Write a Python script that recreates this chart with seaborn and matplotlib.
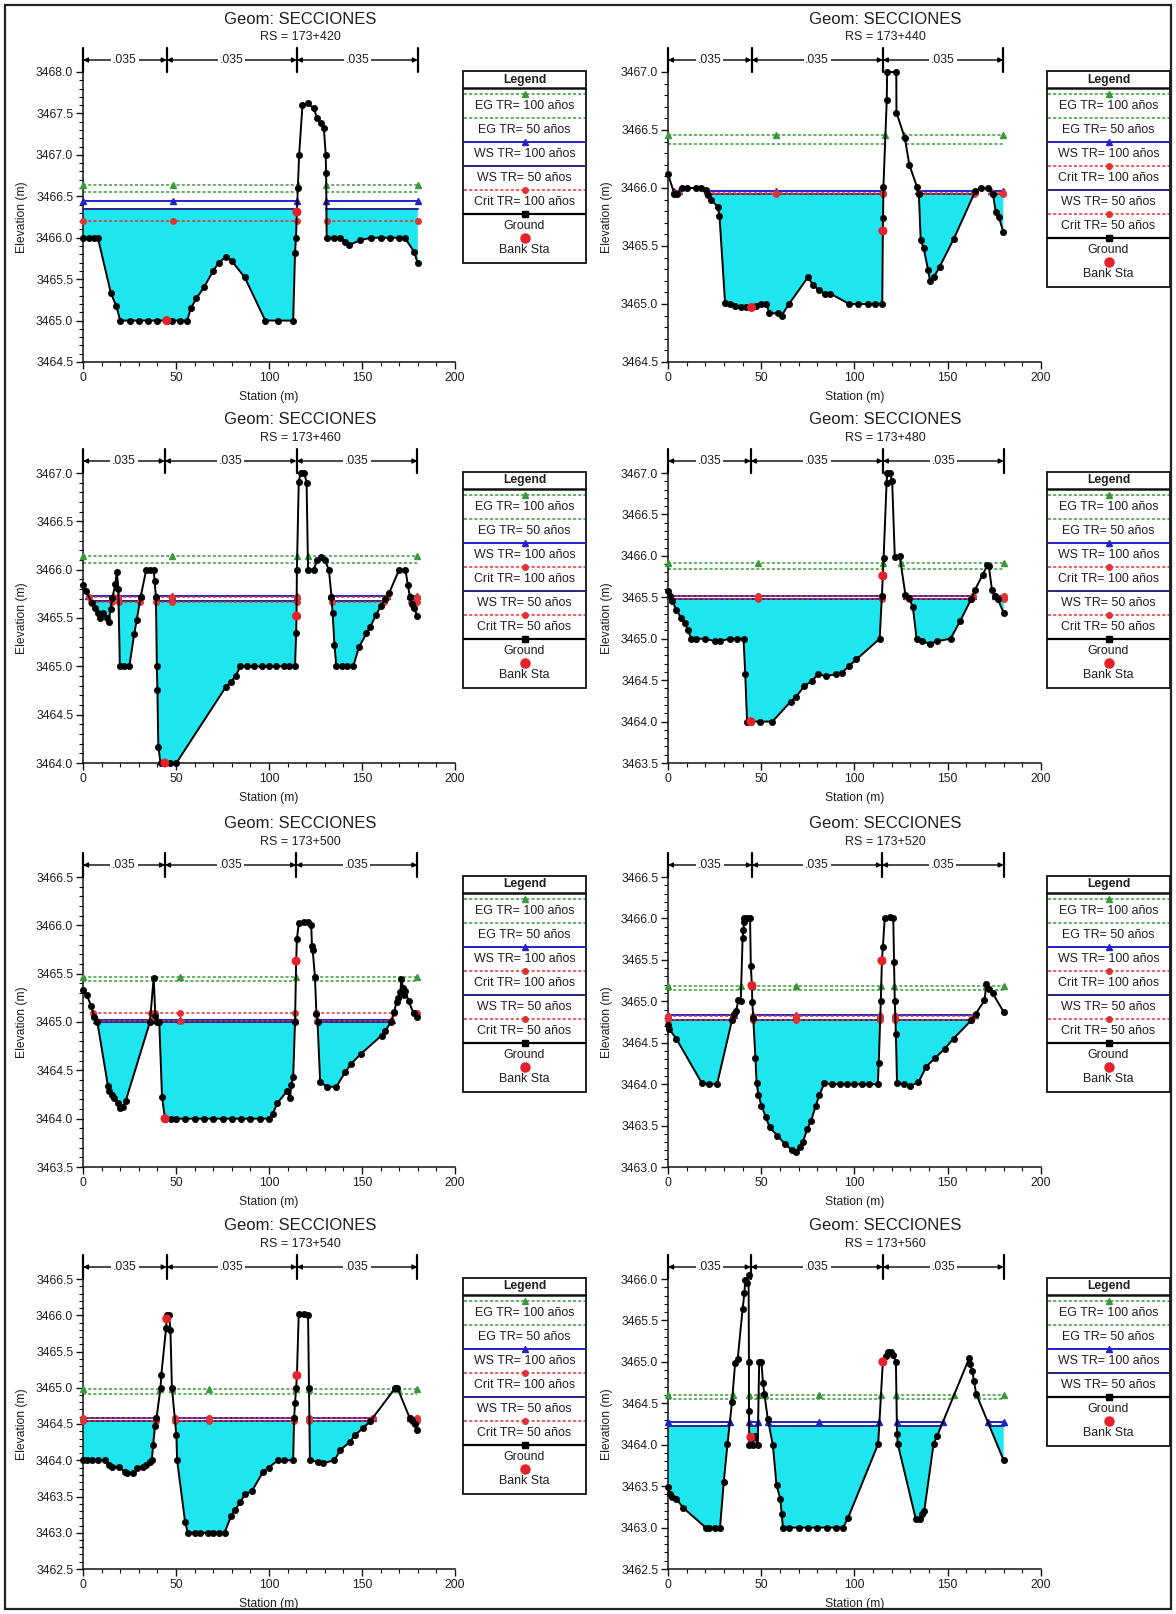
import matplotlib
matplotlib.use("Agg")
import matplotlib.pyplot as plt
import seaborn as sns
from matplotlib.patches import Rectangle
from matplotlib.ticker import MultipleLocator, FormatStrFormatter
from matplotlib.transforms import blended_transform_factory

# ---------------------------------------------------------------- data
rs_labels = ["173+420", "173+440", "173+460", "173+480",
             "173+500", "173+520", "173+540", "173+560"]

sta_420 = [0, 3, 6, 8, 15, 18, 20, 25, 30, 35, 40, 45, 48, 52, 56, 58, 61, 65, 70, 73,
           77, 80, 87, 98, 105, 113, 114, 114.5, 115, 115.5, 116.2, 118, 121, 124, 126,
           128, 129.5, 130.5, 130.7, 131, 135, 138, 141, 143, 149, 155, 160, 165, 170,
           173, 178, 180]
elev_420 = [3466.0, 3466.0, 3466.0, 3466.0, 3465.33, 3465.17, 3465.0, 3465.0, 3465.0,
            3465.0, 3465.0, 3465.0, 3465.0, 3465.0, 3465.0, 3465.15, 3465.27, 3465.4,
            3465.6, 3465.7, 3465.77, 3465.72, 3465.52, 3465.0, 3465.0, 3465.0, 3465.82,
            3466.0, 3466.31, 3466.6, 3467.0, 3467.6, 3467.62, 3467.56, 3467.44, 3467.38,
            3467.32, 3467.0, 3466.78, 3466.0, 3466.0, 3466.0, 3465.95, 3465.91, 3465.97,
            3466.0, 3466.0, 3466.0, 3466.0, 3466.0, 3465.83, 3465.69]

sta_440 = [0, 3.4, 4.8, 7.5, 10, 15, 17.5, 20.6, 21.6, 23, 26.6, 27.6, 30.6, 33, 36, 39,
           42, 44.8, 47, 49.8, 52.8, 54.4, 58.9, 60.9, 64.9, 75, 78, 81, 84, 87, 97.2,
           102, 107, 111, 114.9, 115.2, 115.3, 115.5, 117.3, 117.5, 122.4, 122.5, 127,
           129.4, 133.5, 134.5, 135.5, 137.1, 139.5, 140.5, 142.5, 145.6, 153.2, 164.7,
           167.7, 171.8, 174.2, 175.8, 177.4, 179.8]
elev_440 = [3466.12, 3465.95, 3465.95, 3466.0, 3466.0, 3466.0, 3466.0, 3465.98, 3465.94,
            3465.9, 3465.84, 3465.76, 3465.01, 3465.0, 3464.98, 3464.97, 3464.97, 3464.97,
            3464.98, 3465.0, 3465.0, 3464.92, 3464.92, 3464.9, 3465.0, 3465.23, 3465.16,
            3465.12, 3465.09, 3465.09, 3465.0, 3465.0, 3465.0, 3465.0, 3465.0, 3465.63,
            3465.74, 3466.01, 3466.76, 3467.0, 3467.0, 3466.65, 3466.43, 3466.2, 3466.01,
            3465.95, 3465.55, 3465.48, 3465.29, 3465.2, 3465.23, 3465.32, 3465.56,
            3465.97, 3466.0, 3466.0, 3465.95, 3465.79, 3465.75, 3465.62]

sta_460 = [0, 1.6, 4.7, 6.7, 8, 9.3, 10.7, 12.8, 13.8, 14.8, 15.8, 17.4, 18.2, 19, 19.8,
           22, 24.9, 27.5, 28.9, 31, 34, 36, 38, 38.5, 39.2, 39.7, 40, 40.5, 41.7, 44, 47,
           50.2, 76.9, 79.6, 82, 84.6, 88, 92, 96, 100, 104, 108, 111, 114, 114.6, 114.8,
           115, 116, 117, 119, 120.2, 121, 124, 126, 128, 130, 132.2, 133.6, 134.2, 135.2,
           136.2, 139, 142, 145.3, 148.4, 152.4, 154.5, 157.5, 160, 162.6, 164.6, 170,
           173.3, 174.7, 175.7, 176.7, 178, 179.8]
elev_460 = [3465.84, 3465.78, 3465.66, 3465.6, 3465.55, 3465.5, 3465.55, 3465.5, 3465.46,
            3465.59, 3465.71, 3465.85, 3465.98, 3465.8, 3465.0, 3465.0, 3465.0, 3465.33,
            3465.48, 3465.72, 3466.0, 3466.0, 3466.0, 3465.88, 3465.72, 3465.0, 3464.76,
            3464.17, 3464.0, 3464.0, 3464.0, 3464.0, 3464.79, 3464.84, 3464.9, 3465.0,
            3465.0, 3465.0, 3465.0, 3465.0, 3465.0, 3465.0, 3465.0, 3465.0, 3465.35,
            3465.52, 3466.0, 3466.91, 3467.0, 3467.0, 3466.9, 3466.0, 3466.0, 3466.1,
            3466.13, 3466.1, 3466.0, 3465.72, 3465.55, 3465.22, 3465.0, 3465.0, 3465.0,
            3465.0, 3465.2, 3465.34, 3465.41, 3465.53, 3465.62, 3465.7, 3465.76, 3466.0,
            3466.0, 3465.84, 3465.72, 3465.65, 3465.6, 3465.52]

sta_480 = [0, 1, 2.4, 4.4, 7.1, 9.1, 10.5, 12.5, 15, 20, 25, 28, 33, 37, 40.5, 41.4, 42.4,
           44.4, 49.5, 56, 65.7, 68.7, 73.1, 77.2, 80.4, 84.8, 89.9, 93.3, 97, 101, 113.5,
           114.7, 115.2, 115.6, 117.2, 117.6, 119, 120.2, 121.6, 124.2, 127.3, 129.3,
           131.3, 133.3, 136, 140.4, 144.4, 151.5, 156.6, 162.6, 164.6, 168.7, 171.3, 172,
           173.7, 175.4, 176.8, 180]
elev_480 = [3465.57, 3465.52, 3465.45, 3465.35, 3465.25, 3465.19, 3465.11, 3465.0, 3465.0,
            3465.0, 3464.97, 3464.97, 3465.0, 3465.0, 3465.0, 3464.58, 3464.0, 3464.0,
            3464.0, 3464.0, 3464.24, 3464.3, 3464.43, 3464.49, 3464.57, 3464.55, 3464.57,
            3464.59, 3464.67, 3464.75, 3465.0, 3465.52, 3465.76, 3465.97, 3466.88, 3467.0,
            3467.0, 3466.9, 3465.99, 3466.0, 3465.53, 3465.49, 3465.38, 3465.0, 3464.97,
            3464.94, 3464.97, 3465.0, 3465.21, 3465.48, 3465.59, 3465.77, 3465.89,
            3465.88, 3465.59, 3465.52, 3465.48, 3465.31]

sta_500 = [0, 2, 4.3, 6.1, 7.7, 13.4, 14.2, 15.4, 16.8, 18.8, 19.8, 21.5, 22.9, 36, 38,
           38.9, 39.7, 41, 42.5, 44.1, 47.2, 50, 55, 60, 65, 70, 75, 80, 85, 90, 95, 99.8,
           102, 104.5, 109.9, 111.3, 112, 113, 114, 114.6, 115, 116, 118.6, 121, 122.7,
           123.1, 123.5, 124.7, 125.5, 126.1, 127.5, 131.2, 136.2, 140.9, 144.3, 149.4,
           160.5, 162.6, 165.6, 167.2, 168.6, 169.5, 170.6, 171.2, 172, 172.7, 173.3, 175,
           177.7, 179.8]
elev_500 = [3465.33, 3465.28, 3465.17, 3465.05, 3465.0, 3464.34, 3464.29, 3464.24, 3464.21,
            3464.16, 3464.11, 3464.12, 3464.18, 3465.0, 3465.46, 3465.06, 3465.0, 3465.0,
            3464.22, 3464.0, 3464.0, 3464.0, 3464.0, 3464.0, 3464.0, 3464.0, 3464.0,
            3464.0, 3464.0, 3464.0, 3464.0, 3464.0, 3464.05, 3464.16, 3464.29, 3464.21,
            3464.35, 3464.43, 3465.0, 3465.63, 3465.86, 3466.02, 3466.03, 3466.03, 3466.0,
            3465.79, 3465.74, 3465.47, 3465.08, 3465.0, 3464.38, 3464.33, 3464.33,
            3464.48, 3464.57, 3464.67, 3464.86, 3464.91, 3465.0, 3465.1, 3465.21, 3465.25,
            3465.31, 3465.45, 3465.35, 3465.28, 3465.32, 3465.22, 3465.09, 3465.05]

sta_520 = [0, 0.5, 4.4, 18.2, 22, 26.3, 34.3, 35.4, 36.4, 37.8, 39, 40, 40.4, 40.8, 41,
           42.4, 44, 44.4, 45, 45.2, 45.7, 46.9, 47.5, 48.5, 50.1, 52.5, 54.5, 58.6, 62.6,
           66.7, 68.7, 70.7, 72.3, 74.7, 76.8, 79.2, 81.2, 83.8, 88, 92, 96, 100, 104, 108,
           112.5, 113, 114.1, 114.7, 115.2, 116.2, 119.2, 120.8, 121.2, 121.6, 122.2,
           122.8, 126.3, 130, 134.3, 138.4, 143, 148.5, 153.1, 162.6, 165, 169.7, 170.7,
           172.3, 174, 180]
elev_520 = [3464.71, 3464.67, 3464.55, 3464.01, 3464.0, 3464.0, 3464.77, 3464.85, 3464.88,
            3465.01, 3465.0, 3465.76, 3465.86, 3465.96, 3466.0, 3466.0, 3466.0, 3465.43,
            3465.19, 3464.99, 3464.8, 3464.31, 3464.01, 3463.87, 3463.74, 3463.6, 3463.48,
            3463.38, 3463.28, 3463.2, 3463.18, 3463.24, 3463.3, 3463.46, 3463.56, 3463.74,
            3463.87, 3464.01, 3464.0, 3464.0, 3464.0, 3464.0, 3464.0, 3464.0, 3464.0,
            3464.25, 3465.0, 3465.49, 3465.65, 3466.0, 3466.02, 3466.0, 3465.47, 3465.0,
            3464.6, 3464.01, 3464.0, 3463.98, 3464.02, 3464.21, 3464.31, 3464.43, 3464.55,
            3464.77, 3464.85, 3465.01, 3465.21, 3465.15, 3465.1, 3464.87]

sta_540 = [0, 2, 5, 8, 11.7, 13.8, 15.8, 19.4, 22.5, 23.9, 26.9, 28.9, 32, 34, 36, 37,
           37.7, 38.7, 39.5, 41.7, 42.1, 44.7, 45, 46.2, 47, 47.8, 50.2, 50.6, 54.9, 56.3,
           60, 63, 67, 70, 73, 76.1, 79.6, 81.6, 84.6, 87, 90.7, 96.8, 99.8, 104.9, 108,
           113, 113.5, 114, 114.6, 115, 116, 119, 121, 121.5, 122, 126.1, 129.1, 135.2,
           138.3, 143.3, 146.4, 150.4, 154.5, 168, 169, 175.7, 176.7, 178.7, 179.8]
elev_540 = [3464.0, 3464.0, 3464.0, 3464.0, 3464.0, 3463.93, 3463.91, 3463.91, 3463.84,
            3463.82, 3463.82, 3463.89, 3463.91, 3463.94, 3463.97, 3464.0, 3464.21,
            3464.47, 3464.58, 3465.0, 3465.18, 3465.83, 3466.01, 3466.01, 3465.8, 3465.0,
            3464.35, 3464.0, 3463.15, 3463.0, 3463.0, 3463.0, 3463.0, 3463.0, 3463.0,
            3463.0, 3463.23, 3463.31, 3463.42, 3463.53, 3463.57, 3463.84, 3463.9, 3464.0,
            3464.0, 3464.0, 3464.58, 3464.79, 3465.0, 3465.17, 3466.02, 3466.02, 3466.0,
            3465.0, 3464.0, 3463.98, 3463.96, 3464.0, 3464.14, 3464.25, 3464.35, 3464.44,
            3464.54, 3465.0, 3465.0, 3464.58, 3464.55, 3464.5, 3464.42]

sta_560 = [0, 1, 2.4, 4.4, 8.1, 20.2, 22, 25, 27.9, 29.9, 31.9, 34.3, 36, 37.4, 40, 41,
           41.4, 42.4, 43.2, 43.4, 43.4, 43.6, 44.4, 45.5, 46.5, 48.1, 48.9, 50.1, 50.9,
           51.7, 53.5, 56.2, 58.2, 60.2, 61, 61.6, 65, 70, 75, 80, 85, 90, 93.9, 96.6,
           112.7, 115.2, 116.8, 118.2, 119.5, 120.8, 122.2, 122.8, 123.2, 132.9, 134.9,
           136.4, 137.4, 142.4, 144.4, 161.6, 162, 163.2, 164, 165.3, 180]
elev_560 = [3463.49, 3463.41, 3463.37, 3463.35, 3463.24, 3463.0, 3463.0, 3463.0, 3463.0,
            3463.55, 3464.01, 3464.51, 3464.99, 3465.04, 3465.64, 3465.83, 3465.99,
            3465.95, 3466.05, 3465.0, 3464.41, 3464.0, 3464.09, 3464.0, 3464.1, 3464.0,
            3465.0, 3465.0, 3464.75, 3464.61, 3464.31, 3464.0, 3463.51, 3463.35, 3463.16,
            3463.0, 3463.0, 3463.0, 3463.0, 3463.0, 3463.0, 3463.0, 3463.0, 3463.12,
            3464.01, 3465.0, 3465.07, 3465.12, 3465.12, 3465.08, 3465.0, 3464.13, 3464.01,
            3463.1, 3463.1, 3463.16, 3463.2, 3464.01, 3464.11, 3465.05, 3464.97, 3464.89,
            3464.77, 3464.61, 3463.81]

ground_sta = [sta_420, sta_440, sta_460, sta_480, sta_500, sta_520, sta_540, sta_560]
ground_elev = [elev_420, elev_440, elev_460, elev_480, elev_500, elev_520, elev_540, elev_560]

# water surface / energy / critical elevations per section (None = not computed)
eg100 = [3466.64, 3466.46, 3466.14, 3465.91, 3465.47, 3465.19, 3464.98, 3464.60]
eg50 = [3466.55, 3466.38, 3466.07, 3465.84, 3465.42, 3465.14, 3464.91, 3464.55]
ws100 = [3466.44, 3465.97, 3465.73, 3465.52, 3465.02, 3464.83, 3464.58, 3464.27]
crit100 = [3466.20, 3465.96, 3465.72, 3465.52, 3465.09, 3464.82, 3464.58, None]
ws50 = [3466.35, 3465.95, 3465.68, 3465.48, 3465.00, 3464.78, 3464.54, 3464.23]
crit50 = [None, 3465.95, 3465.67, 3465.48, 3465.01, 3464.77, 3464.54, None]

# bank stations (station, elevation)
bank_l_sta = [45, 44.8, 44, 44.4, 44.1, 45, 45, 44.4]
bank_l_elev = [3465.0, 3464.97, 3464.0, 3464.0, 3464.0, 3465.19, 3465.95, 3464.09]
bank_r_sta = [115, 115.2, 114.8, 115.2, 114.6, 114.7, 115, 115.2]
bank_r_elev = [3466.31, 3465.63, 3465.52, 3465.76, 3465.63, 3465.49, 3465.17, 3465.0]

# Manning n: left overbank, channel, right overbank
n_lob = [0.035] * 8
n_chl = [0.035] * 8
n_rob = [0.035] * 8

# station where the profile symbols are repeated
mark_sta = [48.5, 58, 47.8, 48.5, 52.2, 68.7, 67.8, 80.8]

y_lo = [3464.5, 3464.5, 3464.0, 3463.5, 3463.5, 3463.0, 3462.5, 3462.5]
y_hi = [3468.0, 3467.0, 3467.0, 3467.0, 3466.5, 3466.5, 3466.5, 3466.0]

# ---------------------------------------------------------------- styles
sns.set_style("ticks")
plt.rcParams["font.family"] = ["Liberation Sans", "DejaVu Sans"]
TXT = "#1e1e1e"
WATER = "#1fe6ee"
DOT = (0, (2.0, 1.4))

STYLES = {
    "eg100": dict(color="#3a9a3a", ls=DOT, lw=1.1, marker="^", label="EG TR= 100 años"),
    "eg50": dict(color="#3a9a3a", ls=DOT, lw=1.1, marker=None, label="EG TR= 50 años"),
    "ws100": dict(color="#2323c8", ls="-", lw=1.4, marker="^", label="WS TR= 100 años"),
    "crit100": dict(color="#e03434", ls=DOT, lw=1.1, marker="o", label="Crit TR= 100 años"),
    "ws50": dict(color="#262683", ls="-", lw=1.4, marker=None, label="WS TR= 50 años"),
    "crit50": dict(color="#e03434", ls=DOT, lw=1.1, marker="o", label="Crit TR= 50 años"),
}
LEVELS = {"eg100": eg100, "eg50": eg50, "ws100": ws100, "crit100": crit100,
          "ws50": ws50, "crit50": crit50}
ZORD = {"eg100": 2.2, "eg50": 2.1, "ws100": 3.0, "ws50": 3.1, "crit100": 3.4, "crit50": 3.3}

W, H = 1176, 1614
AX_L = [83, 668]
AX_R = [455, 1041]
ROW_TOP = [72, 473, 877, 1279]
AX_H = 290
LEG_X = [462, 1046]
LEG_W = 125


def wet_spans(x, z, level):
    """Station ranges where the ground lies below a given elevation."""
    spans = []
    start = x[0] if z[0] < level else None
    for i in range(len(x) - 1):
        d0, d1 = z[i] - level, z[i + 1] - level
        if start is None and d0 >= 0 and d1 < 0:
            t = d0 / (d0 - d1)
            start = x[i] + t * (x[i + 1] - x[i])
        elif start is not None and d0 < 0 and d1 >= 0:
            t = d0 / (d0 - d1)
            spans.append((start, x[i] + t * (x[i + 1] - x[i])))
            start = None
    if start is not None:
        spans.append((start, x[-1]))
    return spans


def draw_legend(fig, left, top, keys):
    n = len(keys)
    h = 50 + (n - 1) * 24.0
    lax = fig.add_axes([left / W, 1 - (top + h) / H, LEG_W / W, h / H])
    lax.set_xlim(0, LEG_W)
    lax.set_ylim(h, 0)
    lax.axis("off")
    lax.add_patch(Rectangle((0.6, 0.6), LEG_W - 1.2, h - 1.2, fill=False, lw=1.3,
                            ec="#111111", clip_on=False))
    lax.text(LEG_W / 2, 9.5, "Legend", ha="center", va="center", fontsize=8.7,
             fontweight="bold", color=TXT)
    lax.plot([0, LEG_W], [18, 18], color="#111111", lw=1.8)
    y = 24
    for k in keys:
        if k == "ground":
            lax.plot([2, LEG_W - 2], [y, y], color="k", lw=1.6)
            lax.plot([LEG_W / 2], [y], marker="s", color="k", ms=4.5)
            label = "Ground"
        elif k == "bank":
            lax.plot([LEG_W / 2], [y], marker="o", color="#e8202a", ms=6.5)
            label = "Bank Sta"
        else:
            st = STYLES[k]
            lax.plot([2, LEG_W - 2], [y, y], color=st["color"], ls=st["ls"], lw=st["lw"])
            if st["marker"]:
                lax.plot([LEG_W / 2], [y], marker=st["marker"], color=st["color"], ms=4)
            label = st["label"]
        lax.text(LEG_W / 2, y + 12, label, ha="center", va="center", fontsize=8.9,
                 color=TXT)
        y += 24.0


fig = plt.figure(figsize=(W / 100, H / 100), dpi=100)
fig.patch.set_facecolor("white")

for p in range(8):
    r, c = divmod(p, 2)
    left, right = AX_L[c], AX_R[c]
    top = ROW_TOP[r]
    ax = fig.add_axes([left / W, 1 - (top + AX_H) / H, (right - left) / W, AX_H / H])
    sta = ground_sta[p]
    elev = ground_elev[p]

    # flow area below the lower water surface
    wsl = ws50[p]
    ax.fill_between(sta, elev, wsl, where=[e <= wsl for e in elev], interpolate=True,
                    color=WATER, lw=0, zorder=1)

    # water surface, energy grade and critical depth lines
    for key in ["eg100", "eg50", "ws100", "ws50", "crit100", "crit50"]:
        lev = LEVELS[key][p]
        if lev is None:
            continue
        st = STYLES[key]
        for a, b in wet_spans(sta, elev, lev):
            ax.plot([a, b], [lev, lev], color=st["color"], ls=st["ls"], lw=st["lw"],
                    zorder=ZORD[key], clip_on=False)
            if st["marker"]:
                mx = [a, b] + ([mark_sta[p]] if a < mark_sta[p] < b else [])
                ax.plot(mx, [lev] * len(mx), ls="none", marker=st["marker"],
                        color=st["color"], ms=4, zorder=ZORD[key] + 0.5, clip_on=False)

    # ground profile
    sns.lineplot(x=sta, y=elev, sort=False, estimator=None, ax=ax, color="k", lw=1.4,
                 marker="o", markersize=4.5, markeredgecolor="k", markeredgewidth=0.5,
                 zorder=5, legend=False)
    sns.scatterplot(x=[bank_l_sta[p], bank_r_sta[p]], y=[bank_l_elev[p], bank_r_elev[p]],
                    ax=ax, color="#e8202a", s=42, edgecolor="none", zorder=6, legend=False)
    for art in ax.lines + ax.collections:
        art.set_clip_on(False)

    # axes
    ax.set_xlim(0, 200)
    ax.set_ylim(y_lo[p], y_hi[p])
    ax.xaxis.set_major_locator(MultipleLocator(50))
    ax.xaxis.set_minor_locator(MultipleLocator(10))
    ax.yaxis.set_major_locator(MultipleLocator(0.5))
    ax.yaxis.set_minor_locator(MultipleLocator(0.1))
    ax.yaxis.set_major_formatter(FormatStrFormatter("%.1f"))
    ax.tick_params(which="major", direction="out", length=5, width=1, labelsize=8.7,
                   colors="#111111", labelcolor=TXT, pad=2)
    ax.tick_params(which="minor", direction="out", length=2.8, width=0.8, colors="#111111")
    sns.despine(ax=ax)
    for s in ["left", "bottom"]:
        ax.spines[s].set_linewidth(1.1)
        ax.spines[s].set_color("#111111")
    ax.set_xlabel("")
    ax.set_ylabel("")
    ax.set_facecolor("none")

    # Manning n brackets above the plot
    tr = blended_transform_factory(ax.transData, ax.transAxes)
    edges = [sta[0], bank_l_sta[p], bank_r_sta[p], sta[-1]]
    nvals = [n_lob[p], n_chl[p], n_rob[p]]
    yb = 1 + 12 / AX_H
    for xb in edges:
        ax.plot([xb, xb], [1.0, 1 + 24 / AX_H], color="k", lw=1.6, transform=tr,
                clip_on=False)
    for i in range(3):
        a, b = edges[i], edges[i + 1]
        ax.annotate("", xy=(a, yb), xytext=(b, yb), xycoords=tr, textcoords=tr,
                    arrowprops=dict(arrowstyle="<|-|>", color="k", lw=1.0,
                                    shrinkA=0, shrinkB=0, mutation_scale=7))
        ax.text((a + b) / 2, yb, ("%.3f" % nvals[i]).lstrip("0"), transform=tr,
                ha="center", va="center", fontsize=8.7, color=TXT,
                bbox=dict(boxstyle="square,pad=0.15", fc="white", ec="none"))

    # titles and axis labels
    cx = (left + right) / 2
    fig.text((cx + 31) / W, 1 - (top - 53) / H, "Geom: SECCIONES", ha="center",
             va="center", fontsize=12, color=TXT)
    fig.text((cx + 31) / W, 1 - (top - 35) / H, "RS = " + rs_labels[p], ha="center",
             va="center", fontsize=9, color=TXT)
    fig.text(cx / W, 1 - (top + AX_H + 35) / H, "Station (m)", ha="center",
             va="center", fontsize=8.7, color=TXT)
    fig.text((left - 61) / W, 1 - (top + AX_H / 2) / H, "Elevation (m)", ha="center",
             va="center", rotation=90, fontsize=8.7, color=TXT)

    # legend
    if crit50[p] is None:
        keys = ["eg100", "eg50", "ws100", "ws50"] + (["crit100"] if crit100[p] is not None else [])
    else:
        keys = ["eg100", "eg50", "ws100", "crit100", "ws50", "crit50"]
    draw_legend(fig, LEG_X[c], top - 2, keys + ["ground", "bank"])

# page frame
frame = fig.add_axes([0, 0, 1, 1], facecolor="none")
frame.set_xlim(0, W)
frame.set_ylim(H, 0)
frame.axis("off")
frame.add_patch(Rectangle((5, 5), W - 10, H - 10, fill=False, lw=1.6, ec="#222222"))

fig.savefig("out.png", dpi=100, facecolor="white")
